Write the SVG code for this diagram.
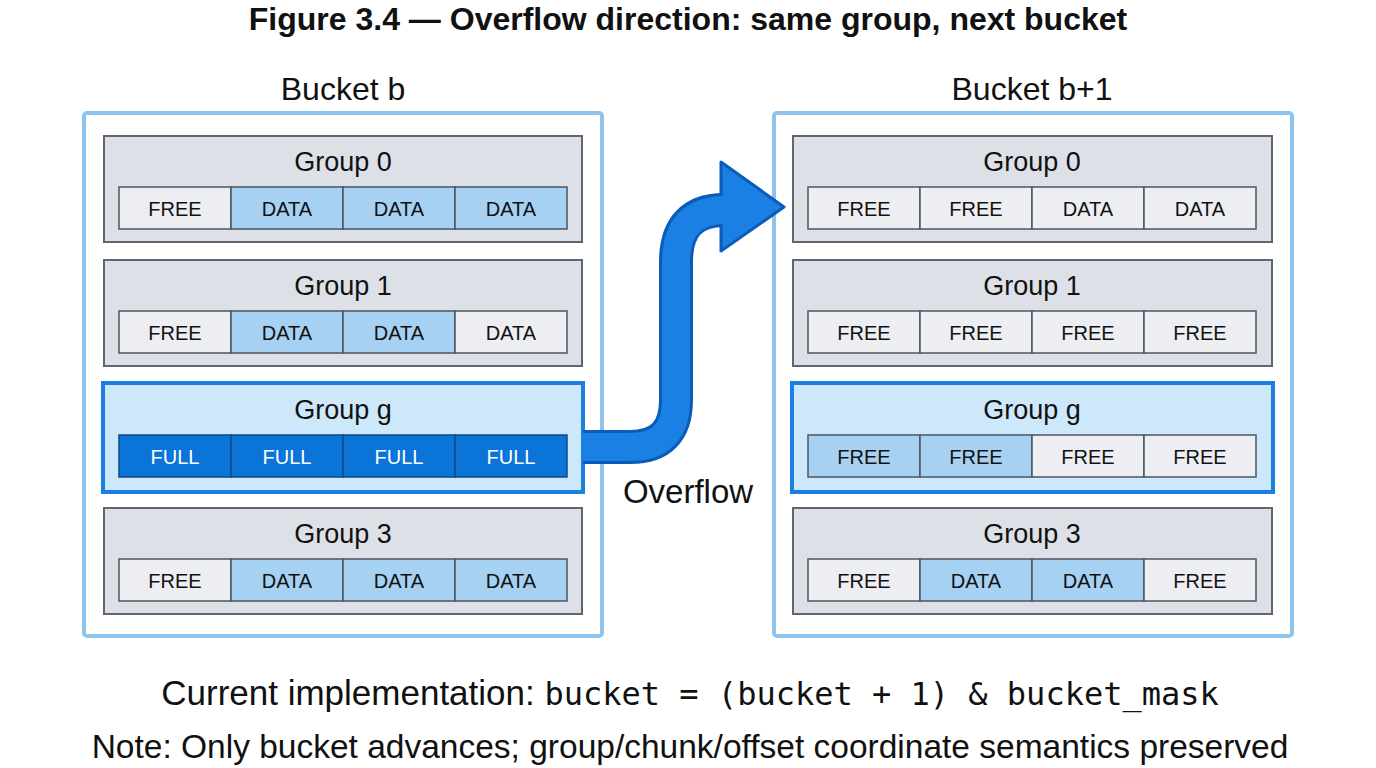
<svg xmlns="http://www.w3.org/2000/svg" width="1376" height="768" viewBox="0 0 1376 768">
<style>
text{font-family:"Liberation Sans",Arial,sans-serif;fill:#111;text-anchor:middle}
.title{font-size:32px;font-weight:bold}
.bk{font-size:32px}
.gl{font-size:27px}
.cl{font-size:20px}
.bucket{fill:#fff;stroke:#8cc4ee;stroke-width:4}
.grp{fill:#dde1e7;stroke:#5d6772;stroke-width:2}
.grpg{fill:#cde7fb;stroke:#1a7fe0;stroke-width:4}
.free{fill:#eceef2;stroke:#4a5563;stroke-width:1.5}
.data{fill:#a6d1f3;stroke:#4a5563;stroke-width:1.5}
.full{fill:#0a74d8;stroke:#144a80;stroke-width:1.5}
.wt{fill:#fff}
</style>
<rect width="1376" height="768" fill="#fff"/>
<text class="title" x="688" y="30">Figure 3.4 — Overflow direction: same group, next bucket</text>

<g id="bucket-b">
<text class="bk" x="343" y="100">Bucket b</text>
<rect class="bucket" x="84" y="113" width="518" height="523" rx="3"/>
</g>
<g id="bucket-b1">
<text class="bk" x="1032" y="100">Bucket b+1</text>
<rect class="bucket" x="774" y="113" width="518" height="523" rx="3"/>
</g>

<g id="b-g0">
<rect class="grp" x="104" y="136" width="478" height="106"/>
<text class="gl" x="343" y="171">Group 0</text>
<rect class="free" x="119" y="187" width="112" height="42"/><text class="cl" x="175" y="216">FREE</text>
<rect class="data" x="231" y="187" width="112" height="42"/><text class="cl" x="287" y="216">DATA</text>
<rect class="data" x="343" y="187" width="112" height="42"/><text class="cl" x="399" y="216">DATA</text>
<rect class="data" x="455" y="187" width="112" height="42"/><text class="cl" x="511" y="216">DATA</text>
</g>
<g id="b-g1">
<rect class="grp" x="104" y="260" width="478" height="106"/>
<text class="gl" x="343" y="295">Group 1</text>
<rect class="free" x="119" y="311" width="112" height="42"/><text class="cl" x="175" y="340">FREE</text>
<rect class="data" x="231" y="311" width="112" height="42"/><text class="cl" x="287" y="340">DATA</text>
<rect class="data" x="343" y="311" width="112" height="42"/><text class="cl" x="399" y="340">DATA</text>
<rect class="free" x="455" y="311" width="112" height="42"/><text class="cl" x="511" y="340">DATA</text>
</g>
<g id="b-gg">
<rect class="grpg" x="103" y="383" width="480" height="109"/>
<text class="gl" x="343" y="419">Group g</text>
<rect class="full" x="119" y="435" width="112" height="42"/><text class="cl wt" x="175" y="464">FULL</text>
<rect class="full" x="231" y="435" width="112" height="42"/><text class="cl wt" x="287" y="464">FULL</text>
<rect class="full" x="343" y="435" width="112" height="42"/><text class="cl wt" x="399" y="464">FULL</text>
<rect class="full" x="455" y="435" width="112" height="42"/><text class="cl wt" x="511" y="464">FULL</text>
</g>
<g id="b-g3">
<rect class="grp" x="104" y="508" width="478" height="106"/>
<text class="gl" x="343" y="543">Group 3</text>
<rect class="free" x="119" y="559" width="112" height="42"/><text class="cl" x="175" y="588">FREE</text>
<rect class="data" x="231" y="559" width="112" height="42"/><text class="cl" x="287" y="588">DATA</text>
<rect class="data" x="343" y="559" width="112" height="42"/><text class="cl" x="399" y="588">DATA</text>
<rect class="data" x="455" y="559" width="112" height="42"/><text class="cl" x="511" y="588">DATA</text>
</g>

<g id="b1-g0">
<rect class="grp" x="793" y="136" width="479" height="106"/>
<text class="gl" x="1032" y="171">Group 0</text>
<rect class="free" x="808" y="187" width="112" height="42"/><text class="cl" x="864" y="216">FREE</text>
<rect class="free" x="920" y="187" width="112" height="42"/><text class="cl" x="976" y="216">FREE</text>
<rect class="free" x="1032" y="187" width="112" height="42"/><text class="cl" x="1088" y="216">DATA</text>
<rect class="free" x="1144" y="187" width="112" height="42"/><text class="cl" x="1200" y="216">DATA</text>
</g>
<g id="b1-g1">
<rect class="grp" x="793" y="260" width="479" height="106"/>
<text class="gl" x="1032" y="295">Group 1</text>
<rect class="free" x="808" y="311" width="112" height="42"/><text class="cl" x="864" y="340">FREE</text>
<rect class="free" x="920" y="311" width="112" height="42"/><text class="cl" x="976" y="340">FREE</text>
<rect class="free" x="1032" y="311" width="112" height="42"/><text class="cl" x="1088" y="340">FREE</text>
<rect class="free" x="1144" y="311" width="112" height="42"/><text class="cl" x="1200" y="340">FREE</text>
</g>
<g id="b1-gg">
<rect class="grpg" x="792" y="383" width="481" height="109"/>
<text class="gl" x="1032" y="419">Group g</text>
<rect class="data" x="808" y="435" width="112" height="42"/><text class="cl" x="864" y="464">FREE</text>
<rect class="data" x="920" y="435" width="112" height="42"/><text class="cl" x="976" y="464">FREE</text>
<rect class="free" x="1032" y="435" width="112" height="42"/><text class="cl" x="1088" y="464">FREE</text>
<rect class="free" x="1144" y="435" width="112" height="42"/><text class="cl" x="1200" y="464">FREE</text>
</g>
<g id="b1-g3">
<rect class="grp" x="793" y="508" width="479" height="106"/>
<text class="gl" x="1032" y="543">Group 3</text>
<rect class="free" x="808" y="559" width="112" height="42"/><text class="cl" x="864" y="588">FREE</text>
<rect class="data" x="920" y="559" width="112" height="42"/><text class="cl" x="976" y="588">DATA</text>
<rect class="data" x="1032" y="559" width="112" height="42"/><text class="cl" x="1088" y="588">DATA</text>
<rect class="free" x="1144" y="559" width="112" height="42"/><text class="cl" x="1200" y="588">FREE</text>
</g>

<g id="connectors">
<path d="M583,447 L630,447 Q676,447 676,400 L676,262 Q676,210 724,210" fill="none" stroke="#0b5cb8" stroke-width="34"/>
<polygon points="721,162 784,207 721,251" fill="#1a80e3" stroke="#0b5cb8" stroke-width="3" stroke-linejoin="round"/>
<path d="M583,447 L630,447 Q676,447 676,400 L676,262 Q676,210 726,210" fill="none" stroke="#1a80e3" stroke-width="28"/>
<text x="688" y="503" style="font-size:33px">Overflow</text>
</g>

<text x="690" y="705" style="font-size:35px">Current implementation: <tspan style="font-family:'DejaVu Sans Mono','Liberation Mono',monospace;font-size:32px">bucket = (bucket + 1) &amp; bucket_mask</tspan></text>
<text x="690" y="758" style="font-size:33.5px">Note: Only bucket advances; group/chunk/offset coordinate semantics preserved</text>
</svg>
